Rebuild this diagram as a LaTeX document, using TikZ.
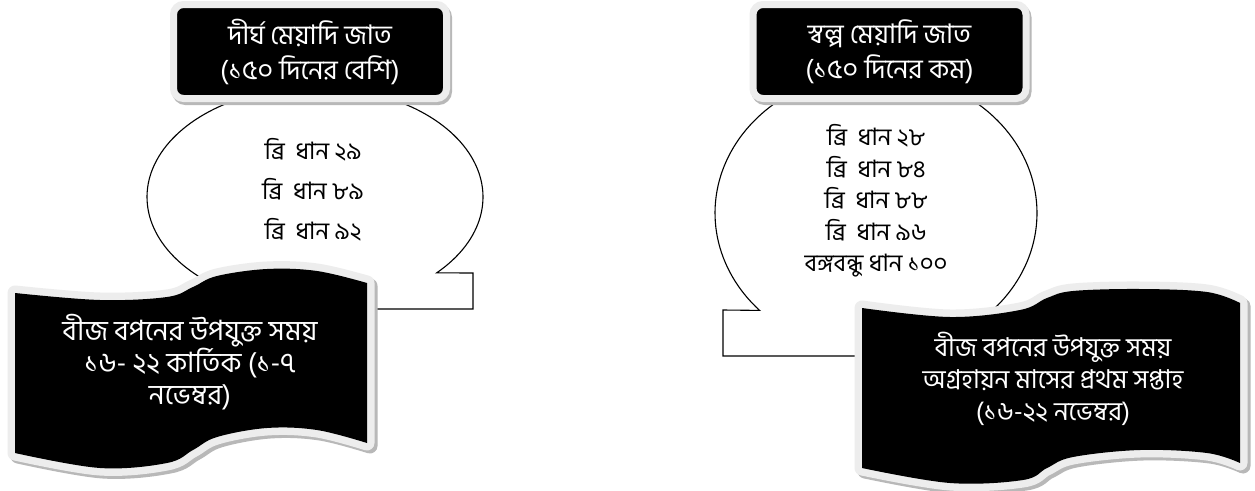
\documentclass[tikz,border=0pt]{standalone}
\usepackage{fontspec}
\newfontfamily\bn[Script=Bengali]{Hind Siliguri}
\definecolor{glow}{gray}{0.93}
\definecolor{shade}{gray}{0.72}
\setlength{\lineskiplimit}{-50pt}
\begin{document}
\begin{tikzpicture}[x=1pt,y=-1pt,
  callout/.style={draw=black, line width=1.1pt, fill=white, line join=miter},
  titlebox/.style={rounded corners=10pt, fill=black, draw=glow, line width=7pt,
    minimum width=273pt, minimum height=94pt, inner sep=0pt, text=white, align=center,
    font=\bn\fontsize{27}{35}\selectfont,
    preaction={draw=shade, fill=shade, line width=7pt, transform canvas={shift={(2pt,-3pt)}}}},
  listL/.style={align=center, inner sep=0pt, font=\bn\fontsize{24}{40}\selectfont},
  listR/.style={align=center, inner sep=0pt, font=\bn\fontsize{24}{31.5}\selectfont},
  flagtextL/.style={align=center, inner sep=0pt, text=white, font=\bn\fontsize{28}{32}\selectfont},
  flagtextR/.style={align=center, inner sep=0pt, text=white, font=\bn\fontsize{26}{32}\selectfont},
  flagglow/.style={fill=glow, draw=glow, line width=15pt, line join=round},
  flagshade/.style={fill=shade, draw=shade, line width=15pt, line join=round},
  waveL/.style={insert path={plot[smooth, tension=0.6] coordinates {(15,293) (100,300) (167,297) (193,287) (217,276) (267,269) (317,271) (367,283)} -- plot[smooth, tension=0.6] coordinates {(367,443) (317,430) (267,428) (217,437) (193,450) (167,463) (100,468) (15,453)} -- cycle}},
  waveR/.style={insert path={plot[smooth, tension=0.6] coordinates {(862,308) (950,317) (1020,310) (1047,298) (1073,291) (1140,289) (1207,292) (1240,303)} -- plot[smooth, tension=0.6] coordinates {(1240,463) (1207,453) (1140,450) (1073,457) (1047,468) (1023,480) (950,483) (862,468)} -- cycle}}
]
\useasboundingbox[fill=white] (0,0) rectangle (1255,490);

% callouts
\path[callout] plot[domain=43.6:-270, samples=150] ({315+168*cos(\x)},{197+110*sin(\x)}) -- (350,309) -- (473,309) -- (473,273) -- cycle;
\path[callout] plot[domain=136.3:450, samples=150] ({876+161*cos(\x)},{213+141*sin(\x)}) -- (870,356) -- (723,356) -- (723,310) -- cycle;

% titles
\node[titlebox] (t1) at (310,51.5) {দীর্ঘ মেয়াদি জাত\\(১৫০ দিনের বেশি)};
\node[titlebox] (t2) at (889.5,51.5) {স্বল্প মেয়াদি জাত\\(১৫০ দিনের কম)};

% flags
\begin{scope}[transform canvas={shift={(3pt,-3pt)}}]
  \path[flagshade, waveL];
  \path[flagshade, waveR];
\end{scope}
\path[flagglow, waveL];
\path[flagglow, waveR];
\path[fill=black, waveL];
\path[fill=black, waveR];

% texts
\node[listL] (l1) at (313,190) {ব্রি\ \ ধান ২৯\\ব্রি\ \ ধান ৮৯\\ব্রি\ \ ধান ৯২};
\node[listR] (l2) at (876,201) {ব্রি\ \ ধান ২৮\\ব্রি\ \ ধান ৮৪\\ব্রি\ \ ধান ৮৮\\ব্রি\ \ ধান ৯৬\\বঙ্গবন্ধু ধান ১০০};
\node[flagtextL] (f1) at (190,362) {বীজ বপনের উপযুক্ত সময়\\১৬- ২২ কার্তিক (১-৭\\নভেম্বর)};
\node[flagtextR] (f2) at (1053,379) {বীজ বপনের উপযুক্ত সময়\\অগ্রহায়ন মাসের প্রথম সপ্তাহ\\(১৬-২২ নভেম্বর)};
\end{tikzpicture}
\end{document}
